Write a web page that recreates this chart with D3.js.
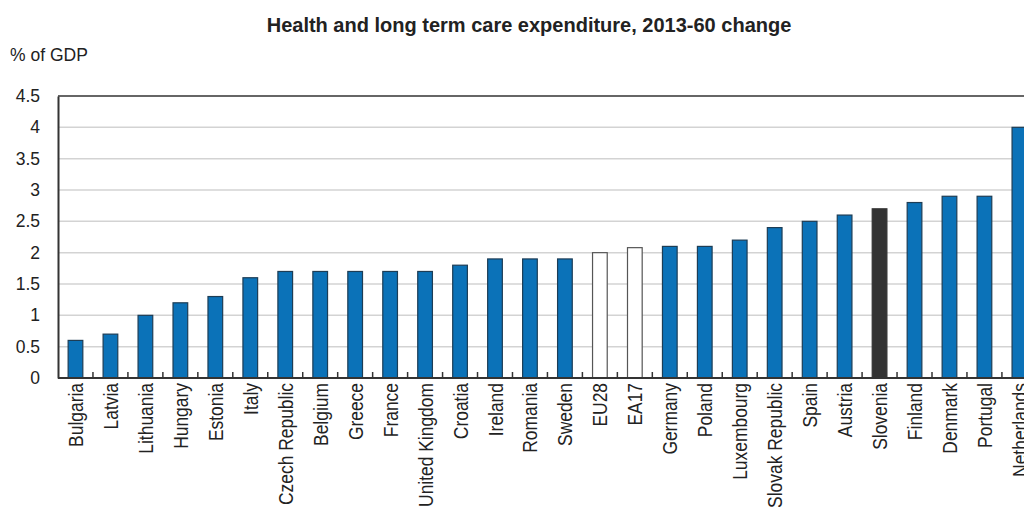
<!DOCTYPE html>
<html><head><meta charset="utf-8">
<script src="https://cdn.jsdelivr.net/npm/d3@7"></script>
<style>
body{margin:0;background:#fff;}
svg{display:block;font-family:"Liberation Sans",Arial,sans-serif;}
</style></head><body>
<svg id="c" width="1024" height="507"></svg>
<script>
const categories = ["Bulgaria","Latvia","Lithuania","Hungary","Estonia","Italy","Czech Republic","Belgium","Greece","France","United Kingdom","Croatia","Ireland","Romania","Sweden","EU28","EA17","Germany","Poland","Luxembourg","Slovak Republic","Spain","Austria","Slovenia","Finland","Denmark","Portugal","Netherlands"];
const values = [0.6,0.7,1.0,1.2,1.3,1.6,1.7,1.7,1.7,1.7,1.7,1.8,1.9,1.9,1.9,2.0,2.08,2.1,2.1,2.2,2.4,2.5,2.6,2.7,2.8,2.9,2.9,4.0];
const kinds = ["c","c","c","c","c","c","c","c","c","c","c","c","c","c","c","agg","agg","c","c","c","c","c","c","hl","c","c","c","c"];
const yTicks = [0,0.5,1,1.5,2,2.5,3,3.5,4,4.5];
const yTickLabels = ["0","0.5","1","1.5","2","2.5","3","3.5","4","4.5"];
const title = "Health and long term care expenditure, 2013-60 change";
const yUnit = "% of GDP";

const svg = d3.select("#c");
const mLeft = 58, step = 34.96, mTop = 96, mBottom = 378;
const x = d3.scaleBand().domain(categories).range([mLeft, mLeft + step*categories.length]).paddingInner(0.58).paddingOuter(0.29);
const y = d3.scaleLinear().domain([0,4.5]).range([mBottom, mTop]);

// gridlines
svg.append("g").selectAll("line").data(yTicks.filter(d=>d>0 && d<4.5)).join("line")
  .attr("x1", mLeft).attr("x2", 1024).attr("y1", d=>y(d)).attr("y2", d=>y(d))
  .attr("stroke","#d3d3d3").attr("stroke-width",1.5);

// top frame line
svg.append("line").attr("x1",mLeft).attr("x2",1024).attr("y1",y(4.5)).attr("y2",y(4.5)).attr("stroke","#333").attr("stroke-width",1.5);

const fill = k => k==="agg" ? "#ffffff" : (k==="hl" ? "#333333" : "#0b72b8");
const stroke = k => k==="agg" ? "#555" : (k==="hl" ? "#333" : "#1d3d55");
svg.append("g").selectAll("rect").data(categories).join("rect")
  .attr("x", d=>x(d)).attr("width", x.bandwidth())
  .attr("y", (d,i)=>y(values[i])).attr("height", (d,i)=>y(0)-y(values[i]))
  .attr("fill",(d,i)=>fill(kinds[i])).attr("stroke",(d,i)=>stroke(kinds[i])).attr("stroke-width",1.2);

// y axis
const yAxis = d3.axisLeft(y).tickValues(yTicks).tickFormat((d,i)=>yTickLabels[i]).tickSize(0).tickPadding(18);
const gy = svg.append("g").attr("transform",`translate(${mLeft},0)`).call(yAxis);
gy.select(".domain").attr("stroke","#333").attr("stroke-width",2);
gy.selectAll("text").attr("font-size","17.5px").attr("fill","#222").attr("font-family","inherit");

// x axis baseline and ticks
svg.append("line").attr("x1",mLeft).attr("x2",1024).attr("y1",mBottom).attr("y2",mBottom).attr("stroke","#333").attr("stroke-width",2);
const boundaries = d3.range(1, categories.length).map(i => x(categories[i]) - x.step()*x.paddingInner()/2);
svg.append("g").selectAll("line").data(boundaries).join("line")
  .attr("x1",d=>d).attr("x2",d=>d).attr("y1",mBottom).attr("y2",mBottom-6)
  .attr("stroke","#333").attr("stroke-width",1.5);

// x labels (condensed look)
svg.append("g").selectAll("text").data(categories).join("text")
  .attr("transform", d=>`translate(${x(d)+x.bandwidth()/2+7.5},${mBottom+5}) rotate(-90) scale(0.83,1)`)
  .attr("text-anchor","end").attr("font-size","21px").attr("fill","#222").text(d=>d);

svg.append("text").attr("x",529).attr("y",32).attr("text-anchor","middle")
  .attr("font-size","20px").attr("font-weight","bold").attr("fill","#222").text(title);
svg.append("text").attr("x",10).attr("y",61).attr("font-size","17.5px").attr("fill","#222").text(yUnit);
</script></body></html>
